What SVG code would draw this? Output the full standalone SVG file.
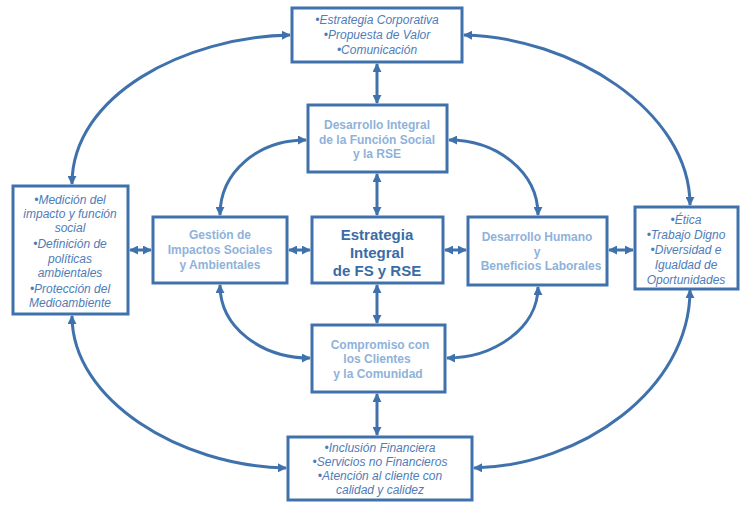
<svg xmlns="http://www.w3.org/2000/svg" width="740" height="505" viewBox="0 0 740 505">
<defs>
<marker id="ah" viewBox="0 0 10 10" refX="9" refY="5" markerWidth="3" markerHeight="3" orient="auto-start-reverse" markerUnits="strokeWidth">
<path d="M0,0 L10,5 L0,10 z" fill="#3f72ad"/>
</marker>
<style>
.box{fill:#fff;stroke:#3f72ad;stroke-width:3}
.con{fill:none;stroke:#3f72ad;stroke-width:3;marker-start:url(#ah);marker-end:url(#ah)}
.it{font-family:"Liberation Sans",Arial,sans-serif;font-style:italic;font-size:12px;fill:#4f7cb8;text-anchor:middle}
.lb{font-family:"Liberation Sans",Arial,sans-serif;font-weight:bold;font-size:12px;fill:#8fb2da;text-anchor:middle}
.ct{font-family:"Liberation Sans",Arial,sans-serif;font-weight:bold;font-size:15px;fill:#3a6ca6;text-anchor:middle}
</style>
</defs>
<rect width="740" height="505" fill="#fff"/>
<g id="connectors">
<path class="con" d="M377,64 V103"/>
<path class="con" d="M377,174 V215"/>
<path class="con" d="M377,285 V323"/>
<path class="con" d="M377,394 V435"/>
<path class="con" d="M289,250 H310"/>
<path class="con" d="M445,250 H466"/>
<path class="con" d="M609,250 H633"/>
<path class="con" d="M130,250 H151"/>
<path class="con" d="M290,35 C185,37 72,95 72,184"/>
<path class="con" d="M464,35 C570,37 690,110 690,205"/>
<path class="con" d="M72,316 C72,400 180,466 286,468"/>
<path class="con" d="M690,290 C690,390 580,466 474,468"/>
<path class="con" d="M306,140 C258,140 220,172 220,215"/>
<path class="con" d="M449,140 C497,140 538,172 538,215"/>
<path class="con" d="M220,285 C220,328 262,358 310,358"/>
<path class="con" d="M538,287 C538,328 494,358 447,358"/>
</g>
<g id="top">
<rect class="box" x="292" y="8" width="170" height="54"/>
<text class="it" x="377" y="24">•Estrategia Corporativa</text>
<text class="it" x="377" y="39">•Propuesta de Valor</text>
<text class="it" x="377" y="54">•Comunicación</text>
</g>
<g id="desarrollo-integral">
<rect class="box" x="308" y="105" width="139" height="67"/>
<text class="lb" x="377" y="129">Desarrollo Integral</text>
<text class="lb" x="377" y="144">de la Función Social</text>
<text class="lb" x="377" y="158">y la RSE</text>
</g>
<g id="gestion">
<rect class="box" x="153" y="217" width="134" height="66"/>
<text class="lb" x="220" y="239">Gestión de</text>
<text class="lb" x="220" y="254">Impactos Sociales</text>
<text class="lb" x="220" y="269">y Ambientales</text>
</g>
<g id="centro">
<rect class="box" x="312" y="217" width="131" height="66"/>
<text class="ct" x="377" y="240">Estrategia</text>
<text class="ct" x="377" y="258">Integral</text>
<text class="ct" x="377" y="276">de FS y RSE</text>
</g>
<g id="desarrollo-humano">
<rect class="box" x="468" y="217" width="139" height="68"/>
<text class="lb" x="537" y="241">Desarrollo Humano</text>
<text class="lb" x="537" y="256">y</text>
<text class="lb" x="541" y="270">Beneficios Laborales</text>
</g>
<g id="derecha">
<rect class="box" x="635" y="207" width="103" height="82"/>
<text class="it" x="686" y="224">•Ética</text>
<text class="it" x="686" y="239">•Trabajo Digno</text>
<text class="it" x="686" y="254">•Diversidad e</text>
<text class="it" x="686" y="269">Igualdad de</text>
<text class="it" x="686" y="284">Oportunidades</text>
</g>
<g id="izquierda">
<rect class="box" x="13" y="186" width="115" height="128"/>
<text class="it" x="70" y="204">•Medición del</text>
<text class="it" x="70" y="218">impacto y función</text>
<text class="it" x="70" y="232">social</text>
<text class="it" x="70" y="248">•Definición de</text>
<text class="it" x="70" y="263">políticas</text>
<text class="it" x="70" y="277">ambientales</text>
<text class="it" x="70" y="293">•Protección del</text>
<text class="it" x="70" y="307">Medioambiente</text>
</g>
<g id="compromiso">
<rect class="box" x="312" y="325" width="133" height="67"/>
<text class="lb" x="380" y="349">Compromiso con</text>
<text class="lb" x="377" y="363">los Clientes</text>
<text class="lb" x="378" y="378">y la Comunidad</text>
</g>
<g id="abajo">
<rect class="box" x="288" y="437" width="184" height="63"/>
<text class="it" x="380" y="452">•Inclusión Financiera</text>
<text class="it" x="380" y="466">•Servicios no Financieros</text>
<text class="it" x="380" y="480">•Atención al cliente con</text>
<text class="it" x="380" y="494">calidad y calidez</text>
</g>
</svg>
